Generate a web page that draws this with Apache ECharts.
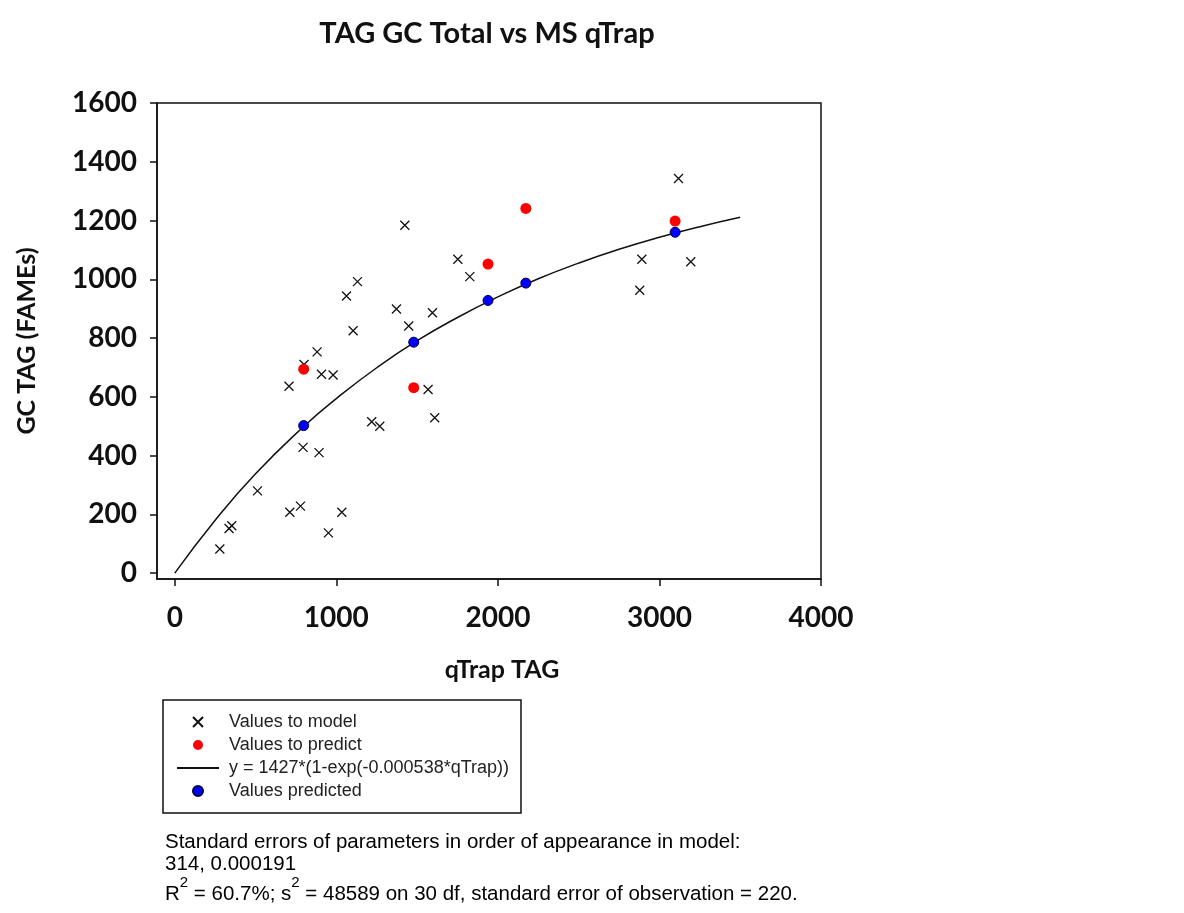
<!DOCTYPE html>
<html>
<head>
<meta charset="utf-8">
<script src="https://cdn.jsdelivr.net/npm/echarts@6/dist/echarts.min.js"></script>
<style>
  html, body { margin: 0; padding: 0; background: #fff; }
  #chart { width: 1184px; height: 913px; }
</style>
</head>
<body>
<div id="chart"></div>
<script>
// values
const modelX = [279, 336, 353, 512, 712, 778, 951, 1034, 794, 893, 707, 800, 908, 980, 881, 1104,
  1063, 1131, 1219, 1269, 1372, 1424, 1448, 1568, 1595, 1609, 1752, 1826, 2878, 2891, 3118, 3194]
const modelY = [82, 152, 161, 280, 207, 228, 137, 207, 428, 410, 636, 710, 677, 674, 753, 825,
  943, 992, 515, 500, 899, 1184, 841, 625, 886, 529, 1068, 1009, 963, 1068, 1343, 1060]
const predictX = [798, 1479, 1939, 2173, 3097]
const predictY = [694, 631, 1052, 1241, 1198]
const predictedY = [502, 786, 928, 987, 1160]
const fitX = [0, 250, 500, 800, 1000, 1250, 1500, 1750, 2000, 2250, 2500, 2750, 3000, 3250, 3500]
const fitY = [0, 180, 338, 500, 594, 699, 791, 870, 940, 1002, 1055, 1102, 1143, 1179, 1211]
const xTicks = [0, 1000, 2000, 3000, 4000]
const yTicks = [0, 200, 400, 600, 800, 1000, 1200, 1400, 1600]

const names = ['Values to model', 'Values to predict', 'y = 1427*(1-exp(-0.000538*qTrap))', 'Values predicted']

function zip (xs, ys) {
  return xs.map((x, i) => [x, ys[i]])
}

const bold = { fontFamily: 'Lato', fontWeight: 'bold', color: '#111' }
const small = { fontFamily: 'Liberation Sans', color: '#222' }

const chart = echarts.init(document.getElementById('chart'))
chart.setOption({
  animation: false,
  backgroundColor: '#fff',
  title: {
    text: 'TAG GC Total vs MS qTrap',
    left: 482,
    textAlign: 'center',
    top: 14,
    textStyle: { ...bold, fontSize: 29 }
  },
  grid: {
    left: 157,
    right: 363,
    top: 103,
    bottom: 334,
    show: true,
    borderColor: '#111',
    borderWidth: 1.5,
    outerBoundsMode: 'none'
  },
  xAxis: {
    type: 'value',
    min: -110,
    max: 4000,
    name: 'qTrap TAG',
    nameLocation: 'middle',
    nameGap: 78,
    nameTextStyle: { ...bold, fontSize: 25, padding: [0, 0, 0, 26] },
    axisLine: { show: true, onZero: false, lineStyle: { color: '#111', width: 1.5 } },
    axisTick: { show: true, customValues: xTicks, length: 7, lineStyle: { color: '#111', width: 1.5 } },
    axisLabel: { customValues: xTicks, margin: 25, formatter: v => String(v), ...bold, fontSize: 28 },
    splitLine: { show: false }
  },
  yAxis: {
    type: 'value',
    min: -20,
    max: 1600,
    name: 'GC TAG (FAMEs)',
    nameLocation: 'middle',
    nameGap: 118,
    nameTextStyle: { ...bold, fontSize: 25 },
    axisLine: { show: true, onZero: false, lineStyle: { color: '#111', width: 1.5 } },
    axisTick: { show: true, customValues: yTicks, length: 7, lineStyle: { color: '#111', width: 1.5 } },
    axisLabel: { customValues: yTicks, margin: 20, formatter: v => String(v), ...bold, fontSize: 28 },
    splitLine: { show: false }
  },
  legend: {
    orient: 'vertical',
    left: 163,
    top: 700,
    padding: [13, 12, 13, 13],
    itemWidth: 42,
    itemHeight: 10,
    itemGap: 5,
    selectedMode: false,
    borderColor: '#111',
    borderWidth: 1.5,
    borderRadius: 0,
    textStyle: { ...small, fontSize: 18, lineHeight: 18, padding: [0, 0, 0, 5] },
    data: [
      names[0],
      names[1],
      { name: names[2], itemStyle: { opacity: 0 } },
      names[3]
    ]
  },
  series: [
    {
      name: names[0],
      type: 'scatter',
      symbol: 'path://M0,0L10,10M10,0L0,10',
      symbolSize: 9,
      itemStyle: { color: 'transparent', borderColor: '#111', borderWidth: 1.3, opacity: 1 },
      data: zip(modelX, modelY),
      z: 3
    },
    {
      name: names[1],
      type: 'scatter',
      symbol: 'circle',
      symbolSize: 11,
      itemStyle: { color: '#ff0000', opacity: 1 },
      data: zip(predictX, predictY),
      z: 4
    },
    {
      name: names[2],
      type: 'line',
      smooth: true,
      symbol: 'none',
      lineStyle: { color: '#111', width: 1.5 },
      data: zip(fitX, fitY),
      z: 2
    },
    {
      name: names[3],
      type: 'scatter',
      symbol: 'circle',
      symbolSize: 10,
      itemStyle: { color: '#0000ff', borderColor: '#000040', borderWidth: 1, opacity: 1 },
      data: zip(predictX, predictedY),
      z: 5
    }
  ],
  graphic: [
    {
      type: 'text',
      left: 165,
      top: 832,
      style: { text: 'Standard errors of parameters in order of appearance in model:', ...small, fontSize: 20.5 }
    },
    {
      type: 'text',
      left: 165,
      top: 854,
      style: { text: '314, 0.000191', ...small, fontSize: 20.5 }
    },
    {
      type: 'text',
      left: 165,
      top: 875,
      style: {
        text: '{t|R}{s|2}{t| = 60.7%; s}{s|2}{t| = 48589 on 30 df, standard error of observation = 220.}',
        rich: {
          t: { ...small, fontSize: 20.5, lineHeight: 30, verticalAlign: 'bottom' },
          s: { ...small, fontSize: 15, lineHeight: 16, verticalAlign: 'top' }
        }
      }
    }
  ]
})
</script>
</body>
</html>
